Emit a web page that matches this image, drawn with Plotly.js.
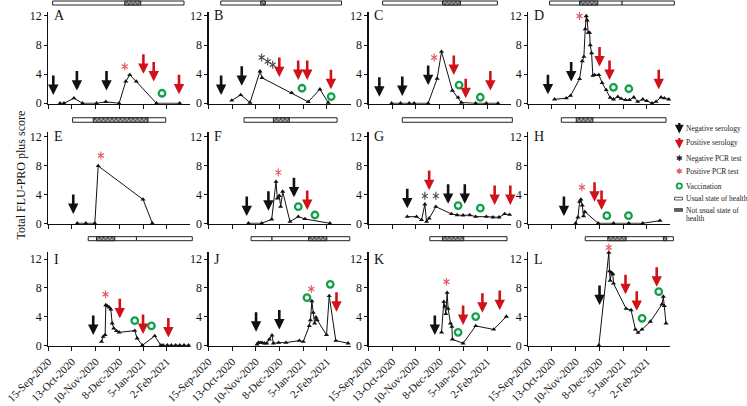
<!DOCTYPE html>
<html><head><meta charset="utf-8">
<script src="https://cdn.plot.ly/plotly-3.0.1.min.js"></script>
<style>html,body{margin:0;padding:0;background:#fff}#chart{width:747px;height:406px}</style>
</head><body><div id="chart"></div>
<script>
// ---------- DATA (x = days since 15-Sep-2020) ----------
const tickDays = [0, 28, 56, 84, 112, 140];
const tickLabels = ['15-Sep-2020','13-Oct-2020','10-Nov-2020','8-Dec-2020','5-Jan-2021','2-Feb-2021'];
const panelLetters = ['A','B','C','D','E','F','G','H','I','J','K','L'];

const day_A = [13.8, 18.5, 30.3, 40.5, 57, 68, 83.7, 91.6, 96.3, 104, 127.8, 155.3];
const score_A = [0, 0, 0.7, 0, 0, 0.2, 0, 3.0, 3.9, 3.0, 0, 0];
const negSero_A = [[5.9,1.15],[33.8,1.75],[68.8,1.75]];
const posSero_A = [[112.4,4.05],[124.6,3.0],[154.5,1.24]];
const negPcr_A = [];
const posPcr_A = [[90.4,5.06]];
const vacc_A = [[134.4,1.38]];
const usual_A = [[5.1,160.4]];
const notUsual_A = [[90.4,109.3]];

const day_B = [27.5, 38.1, 49.1, 60.9, 63.3, 98.3, 117.9, 131.7, 141.5];
const score_B = [0.4, 1.15, 0.1, 4.4, 3.5, 1.45, 0.2, 1.93, 0.1];
const negSero_B = [[14.9,1.15],[39.3,2.4]];
const posSero_B = [[83.7,3.6],[106,3.2],[116.7,3.2],[144.7,1.93]];
const negPcr_B = [[62.9,6.3],[70,5.75],[75.9,5.3]];
const posPcr_B = [];
const vacc_B = [[110.5,2.07],[145,0.92]];
const usual_B = [[14.5,157.2]];
const notUsual_B = [[61.7,67.2]];

const day_C = [27.2, 37.8, 48, 53.9, 70.4, 81, 86.2, 99.1, 105.8, 109.7, 126.6, 139.2, 153];
const score_C = [0, 0, 0, 0, 0, 3.4, 7.1, 1.75, 0.8, 0.1, 0, 0, 0];
const negSero_C = [[12.7,0.9],[39.8,1.0],[70.4,2.5]];
const posSero_C = [[100.7,3.9],[114.8,0.7],[143.9,1.75]];
const negPcr_C = [];
const posPcr_C = [[77.5,6.3]];
const vacc_C = [[107,2.5],[132,0.83]];
const usual_C = [[16.6,152.2]];
const notUsual_C = [[87.3,108.6]];

const day_D = [31.0, 44.9, 50.0, 60.6, 63.8, 65.7, 67.3, 68.5, 69.6, 70.8, 72.4, 73.2, 74.8, 76.3, 78.3, 83.4, 87.3, 92.1, 96.8, 100.7, 105.8, 109.7, 114.8, 119.6, 124.7, 129.4, 135.3, 140.0, 146.3, 151.0, 156.9, 160.8, 166.0];
const score_D = [0.55, 0.7, 1.05, 3.35, 5.8, 6.4, 10.2, 12.0, 11.4, 9.7, 9.7, 8.0, 6.9, 3.8, 3.9, 3.9, 2.8, 1.84, 0.78, 0.55, 0.9, 0.64, 0.46, 0.46, 0.83, 0.23, 0.55, 0.32, 0, 0.23, 0.83, 0.7, 0.55];
const negSero_D = [[23.2,1.24],[50.7,3.0]];
const posSero_D = [[84.2,5.06],[96,3.2],[154.2,1.93]];
const negPcr_D = [];
const posPcr_D = [[60.6,12.0]];
const vacc_D = [[100.7,2.2],[118.8,2.0]];
const usual_D = [[25.2,110.9],[110.9,172.6]];
const notUsual_D = [[60.6,82.2]];

const day_E = [34.2, 44.4, 55, 59, 112, 123];
const score_E = [0, 0, 0, 7.94, 3.3, 0];
const negSero_E = [[29.5,1.3]];
const posSero_E = [];
const negPcr_E = [];
const posPcr_E = [[62.1,9.4]];
const vacc_E = [];
const usual_E = [[28.7,138.8]];
const notUsual_E = [[53.1,117.9]];

const day_F = [47.2, 62.9, 74.7, 79.8, 81.4, 83.7, 85.3, 87.7, 96.3, 106.1, 114, 143.5];
const score_F = [0, 0, 0.55, 5.77, 3.46, 3.8, 2.3, 4.4, 0.23, 0.92, 0.6, 0];
const negSero_F = [[45.2,1.0],[70.8,1.75],[101,3.6]];
const posSero_F = [[116.7,1.85]];
const negPcr_F = [];
const posPcr_F = [[82.5,7.05]];
const vacc_F = [[106.1,2.3],[125.8,1.15]];
const usual_F = [[42,152]];
const notUsual_F = [[76.7,95.5]];

const day_G = [45.7, 56.7, 62.6, 66.5, 68.5, 71.6, 79.5, 97.9, 104.6, 111.7, 119.6, 126.6, 139.2, 147, 154.2, 160.8, 166.7];
const score_G = [0.92, 0.92, 0.46, 2.63, 0.23, 0.69, 2.3, 1.29, 1.15, 1.1, 1.15, 0.92, 0.92, 0.83, 0.83, 1.29, 1.2];
const negSero_G = [[45.7,2.08],[94,2.7],[113.7,2.7]];
const posSero_G = [[71.6,4.6],[149,2.54],[167.5,2.54]];
const negPcr_G = [[66.5,3.8],[79.5,3.8]];
const posPcr_G = [];
const vacc_G = [[105.8,2.45],[132.1,2.1]];
const usual_G = [[39.8,169.9]];
const notUsual_G = [];

const day_H = [55.9, 58.7, 60.6, 62.2, 63.8, 65.3, 66.9, 82.6, 100.7, 118.8, 135.3, 155.7];
const score_H = [0, 0.83, 3.0, 3.3, 2.5, 1.0, 1.6, 0, 0, 0, 0, 0.37];
const negSero_H = [[42.1,1.0]];
const posSero_H = [[78.3,3.0],[86.6,1.85]];
const negPcr_H = [];
const posPcr_H = [[63.4,5.0]];
const vacc_H = [[92.8,1.06],[118.4,1.06]];
const usual_H = [[39,162.8]];
const notUsual_H = [[56.7,76.3]];

const day_I = [62.9, 64.9, 67.2, 68, 69.6, 71.9, 73.9, 75.5, 77.4, 80.6, 83.7, 102.2, 105, 111.2, 125.8, 132.9, 135.6, 140.7, 145.4, 150.6, 155.3, 160.4, 165.9];
const score_I = [0.5, 1.2, 1.44, 5.6, 5.47, 5.28, 5.0, 3.06, 2.36, 2.0, 1.8, 2.04, 0.97, 0, 1.3, 0, 0, 0, 0, 0, 0, 0, 0];
const negSero_I = [[53.1,1.44]];
const posSero_I = [[84.5,3.75],[112,1.58],[141.9,1.1]];
const negPcr_I = [];
const posPcr_I = [[67.6,7.1]];
const vacc_I = [[102.2,3.43],[121.9,2.7]];
const usual_I = [[47.2,104.2],[104.2,170.2]];
const notUsual_I = [[57,78.6]];

const day_J = [57.4, 59, 61, 63.3, 66, 68.8, 71.9, 75.1, 76.7, 82.9, 91.6, 107.3, 112, 119.1, 120.5, 122.2, 123.8, 125.4, 127, 128.5, 139.5, 142.7, 150.5, 165.1];
const score_J = [0.14, 0.37, 0.37, 0.37, 0.28, 0.28, 0.83, 1.39, 0.28, 0.37, 0.37, 0.65, 0.5, 2.7, 3.5, 6.16, 4.54, 3.06, 3.9, 3.5, 1.44, 6.86, 0.65, 0.28];
const negSero_J = [[56.2,1.9],[83.7,2.2]];
const posSero_J = [[151.3,4.68]];
const negPcr_J = [];
const posPcr_J = [[121.5,7.83]];
const vacc_J = [[116.4,6.63],[143.9,8.48]];
const usual_J = [[50.3,75.1],[75.1,167]];
const notUsual_J = [[118.3,139.9]];

const day_K = [86.2, 88.9, 90.1, 91.3, 92.8, 94, 96.8, 98.4, 99.1, 111.7, 126.6, 147.9, 162.8];
const score_K = [1.8, 6.07, 5.4, 4.36, 7.32, 5.1, 3.06, 2.6, 0.83, 0.28, 2.7, 2.2, 4.0];
const negSero_K = [[78.3,1.44]];
const posSero_K = [[111.7,2.83],[134.5,4.54],[155,4.9]];
const negPcr_K = [];
const posPcr_K = [[92,8.85]];
const vacc_K = [[105.8,1.8],[126.6,4.0]];
const usual_K = [[72.4,163.6]];
const notUsual_K = [[87.3,112.5]];

const day_L = [83.4, 95.2, 96.0, 96.8, 98.4, 99.9, 100.7, 115.6, 121.5, 126.6, 129.7, 134.4, 144.3, 158, 159.6, 160.8, 162.8];
const score_L = [0, 12.9, 10.3, 9.0, 10.1, 9.9, 8.6, 5.1, 4.9, 2.2, 1.76, 2.2, 3.3, 5.7, 6.77, 5.47, 3.06];
const negSero_L = [[84.2,5.6]];
const posSero_L = [[114.9,7.1],[128.2,4.8],[151.8,8.15]];
const negPcr_L = [];
const posPcr_L = [[95.2,13.6]];
const vacc_L = [[134.5,3.75],[154.2,7.46]];
const usual_L = [[67.3,171.5]];
const notUsual_L = [[94,115.6],[159.7,163.6]];

const legendLabels = ['Negative serology','Positive serology','Negative PCR test','Positive PCR test','Vaccination','Usual state of health','Not usual state of','health'];
const yTitle = 'Total FLU-PRO plus score';

// ---------- PANEL TABLE ----------
const panels = [
  {day:day_A,score:score_A,negSero:negSero_A,posSero:posSero_A,negPcr:negPcr_A,posPcr:posPcr_A,vacc:vacc_A,usual:usual_A,notUsual:notUsual_A},
  {day:day_B,score:score_B,negSero:negSero_B,posSero:posSero_B,negPcr:negPcr_B,posPcr:posPcr_B,vacc:vacc_B,usual:usual_B,notUsual:notUsual_B},
  {day:day_C,score:score_C,negSero:negSero_C,posSero:posSero_C,negPcr:negPcr_C,posPcr:posPcr_C,vacc:vacc_C,usual:usual_C,notUsual:notUsual_C},
  {day:day_D,score:score_D,negSero:negSero_D,posSero:posSero_D,negPcr:negPcr_D,posPcr:posPcr_D,vacc:vacc_D,usual:usual_D,notUsual:notUsual_D},
  {day:day_E,score:score_E,negSero:negSero_E,posSero:posSero_E,negPcr:negPcr_E,posPcr:posPcr_E,vacc:vacc_E,usual:usual_E,notUsual:notUsual_E},
  {day:day_F,score:score_F,negSero:negSero_F,posSero:posSero_F,negPcr:negPcr_F,posPcr:posPcr_F,vacc:vacc_F,usual:usual_F,notUsual:notUsual_F},
  {day:day_G,score:score_G,negSero:negSero_G,posSero:posSero_G,negPcr:negPcr_G,posPcr:posPcr_G,vacc:vacc_G,usual:usual_G,notUsual:notUsual_G},
  {day:day_H,score:score_H,negSero:negSero_H,posSero:posSero_H,negPcr:negPcr_H,posPcr:posPcr_H,vacc:vacc_H,usual:usual_H,notUsual:notUsual_H},
  {day:day_I,score:score_I,negSero:negSero_I,posSero:posSero_I,negPcr:negPcr_I,posPcr:posPcr_I,vacc:vacc_I,usual:usual_I,notUsual:notUsual_I},
  {day:day_J,score:score_J,negSero:negSero_J,posSero:posSero_J,negPcr:negPcr_J,posPcr:posPcr_J,vacc:vacc_J,usual:usual_J,notUsual:notUsual_J},
  {day:day_K,score:score_K,negSero:negSero_K,posSero:posSero_K,negPcr:negPcr_K,posPcr:posPcr_K,vacc:vacc_K,usual:usual_K,notUsual:notUsual_K},
  {day:day_L,score:score_L,negSero:negSero_L,posSero:posSero_L,negPcr:negPcr_L,posPcr:posPcr_L,vacc:vacc_L,usual:usual_L,notUsual:notUsual_L}
];

// ---------- LAYOUT CONSTANTS (pixels) ----------
const W = 747, H = 406;
const FONT = 'Liberation Serif, Times New Roman, serif';
const colOriginPx = [48.3, 208.5, 368.6, 528.3];
const pxPerDay = 0.846;
const xMax = 168;      // visible axis end (days)
const xExt = 178;      // extended hidden axis for marks that pass the axis end
const rowZeroPx = [103.3, 223.3, 345.3];
const rowUnitPx = [7.275, 7.22, 7.19];
const rowTop = [12.6, 12.6, 13.0];
const yMin = -0.06;
const barCenterPx = [3, 120, 238.7];
const barHeightPx = [4, 4.5, 4];
const COL = {black:'#111', red:'#d0121b', pink:'#e2575f', green:'#14a04a', gray:'#444'};
const arrowLen = 21;
const X = px => px / W;
const Y = py => 1 - py / H;

const traces = [];
const annotations = [];
const shapes = [];
const layout = {
  width: W, height: H, margin: {l:0, r:0, t:0, b:0},
  paper_bgcolor: '#fff', plot_bgcolor: 'rgba(0,0,0,0)',
  showlegend: false, barmode: 'overlay',
  font: {family: FONT, color: '#111'},
  annotations, shapes
};

panels.forEach((p, i) => {
  const r = Math.floor(i / 4), c = i % 4;
  const sfx = i === 0 ? '' : String(i + 1);
  const esfx = String(i + 13);
  const xa = 'x' + sfx, ya = 'y' + sfx;
  const xe = 'x' + esfx, ye = 'y' + esfx;
  const o = colOriginPx[c];
  const zero = rowZeroPx[r], unit = rowUnitPx[r];
  const yBottomPx = zero - yMin * unit;
  layout['xaxis' + sfx] = {
    domain: [X(o), X(o + xMax * pxPerDay)], range: [0, xMax], anchor: ya,
    tickmode: 'array', tickvals: tickDays, ticktext: tickLabels,
    showticklabels: r === 2, tickangle: -45,
    tickfont: {family: FONT, size: 11, color: '#111'},
    ticks: 'outside', ticklen: 4, tickwidth: 1, tickcolor: '#111',
    showline: true, linecolor: '#111', linewidth: 1.2,
    showgrid: false, zeroline: false, fixedrange: true
  };
  layout['yaxis' + sfx] = {
    domain: [Y(yBottomPx), Y(zero - rowTop[r] * unit)], range: [yMin, rowTop[r]], anchor: xa,
    tickmode: 'array', tickvals: [0, 4, 8, 12],
    tickfont: {family: FONT, size: 12, color: '#111'},
    ticks: 'outside', ticklen: 3, tickwidth: 1, tickcolor: '#111',
    showline: true, linecolor: '#111', linewidth: 1.2,
    showgrid: false, zeroline: false, fixedrange: true
  };
  // hidden extended axes with the same scale, reaching the top of the figure and past the x end
  layout['xaxis' + esfx] = {
    domain: [X(o), X(o + xExt * pxPerDay)], range: [0, xExt], anchor: ye, visible: false, fixedrange: true
  };
  layout['yaxis' + esfx] = {
    domain: [Y(yBottomPx), 1], range: [yMin, zero / unit], anchor: xe, visible: false, fixedrange: true
  };
  const barY = (zero - barCenterPx[r]) / unit;
  const barW = barHeightPx[r] / unit;
  // health state bars
  traces.push({
    type: 'bar', orientation: 'h', xaxis: xe, yaxis: ye,
    y: p.usual.map(() => barY), base: p.usual.map(s => s[0]), x: p.usual.map(s => s[1] - s[0]),
    width: p.usual.map(() => barW),
    marker: {color: '#fff', line: {color: '#222', width: 1}}, hoverinfo: 'skip'
  });
  if (p.notUsual.length) traces.push({
    type: 'bar', orientation: 'h', xaxis: xe, yaxis: ye,
    y: p.notUsual.map(() => barY), base: p.notUsual.map(s => s[0]), x: p.notUsual.map(s => s[1] - s[0]),
    width: p.notUsual.map(() => barW),
    marker: {color: '#8a8a8a', line: {color: '#222', width: 1},
      pattern: {shape: 'x', size: 3, solidity: 0.4, fgcolor: '#222', bgcolor: '#aaa'}}, hoverinfo: 'skip'
  });
  // score line
  traces.push({
    type: 'scatter', mode: 'lines+markers', xaxis: xa, yaxis: ya, cliponaxis: false,
    x: p.day, y: p.score,
    line: {color: '#111', width: 1},
    marker: {symbol: 'triangle-up', size: 4.5, color: '#111'}, hoverinfo: 'skip'
  });
  // vaccinations
  if (p.vacc.length) traces.push({
    type: 'scatter', mode: 'markers', xaxis: xa, yaxis: ya, cliponaxis: false,
    x: p.vacc.map(v => v[0]), y: p.vacc.map(v => v[1]),
    marker: {symbol: 'circle-open', size: 6.5, color: COL.green, line: {color: COL.green, width: 2.3}}, hoverinfo: 'skip'
  });
  // PCR tests (asterisks) on the extended axes so that marks above 12 stay visible
  [[p.negPcr, COL.gray], [p.posPcr, COL.pink]].forEach(([arr, col]) => {
    if (!arr.length) return;
    traces.push({
      type: 'scatter', mode: 'markers', xaxis: xe, yaxis: ye, cliponaxis: false,
      x: arr.map(v => v[0]).concat(arr.map(v => v[0])),
      y: arr.map(v => v[1]).concat(arr.map(v => v[1])),
      marker: {symbol: arr.map(() => 'y-up-open').concat(arr.map(() => 'y-down-open')),
        size: 5, color: col, line: {color: col, width: 1.1}}, hoverinfo: 'skip'
    });
  });
  // serology arrows
  [[p.negSero, COL.black], [p.posSero, COL.red]].forEach(([arr, col]) => {
    arr.forEach(v => annotations.push({
      xref: xe, yref: ye, x: v[0], y: v[1], ax: 0, ay: -arrowLen, text: '',
      showarrow: true, arrowhead: 2, arrowsize: 0.8, arrowwidth: 2.6, arrowcolor: col, standoff: 0
    }));
  });
  // panel letter
  annotations.push({
    xref: xa + ' domain', yref: ya, x: 0.025, y: 12, xanchor: 'left', yanchor: 'middle',
    text: panelLetters[i], showarrow: false, font: {family: FONT, size: 14, color: '#111'}
  });
});

// y title
annotations.push({
  xref: 'paper', yref: 'paper', x: X(20.5), y: Y(175), textangle: -90, showarrow: false,
  text: yTitle, font: {family: FONT, size: 12, color: '#111'}, xanchor: 'center', yanchor: 'middle'
});

// ---------- LEGEND ----------
const legX = 679.3, legTextX = 683.5;
const legRowY = [128, 143, 158, 172, 186, 198.7, 210, 218.7];
annotations.push({xref:'paper', yref:'paper', x: X(legX), y: Y(133.5), ax: 0, ay: -12, text: '', showarrow: true,
  arrowhead: 2, arrowsize: 0.8, arrowwidth: 2.2, arrowcolor: COL.black, standoff: 0});
annotations.push({xref:'paper', yref:'paper', x: X(legX), y: Y(148.5), ax: 0, ay: -12, text: '', showarrow: true,
  arrowhead: 2, arrowsize: 0.8, arrowwidth: 2.2, arrowcolor: COL.red, standoff: 0});
annotations.push({xref:'paper', yref:'paper', x: X(legX), y: Y(legRowY[2]), text: '✱', showarrow: false,
  font: {family: 'DejaVu Sans', size: 8, color: '#222'}, xanchor: 'center', yanchor: 'middle'});
annotations.push({xref:'paper', yref:'paper', x: X(legX), y: Y(legRowY[3]), text: '✱', showarrow: false,
  font: {family: 'DejaVu Sans', size: 8, color: COL.pink}, xanchor: 'center', yanchor: 'middle'});
shapes.push({type: 'circle', xref: 'paper', yref: 'paper', x0: X(legX - 2.6), x1: X(legX + 2.6), y0: Y(legRowY[4] + 2.6), y1: Y(legRowY[4] - 2.6),
  line: {color: COL.green, width: 1.8}});
shapes.push({type: 'rect', xref: 'paper', yref: 'paper', x0: X(674.5), x1: X(682.5), y0: Y(200), y1: Y(197.3),
  line: {color: '#333', width: 0.8}, fillcolor: '#fff'});
shapes.push({type: 'rect', xref: 'paper', yref: 'paper', x0: X(674.5), x1: X(682.5), y0: Y(211.3), y1: Y(208.6),
  line: {color: '#333', width: 0.8}, fillcolor: '#666'});
legendLabels.forEach((t, k) => annotations.push({
  xref: 'paper', yref: 'paper', x: X(legTextX), y: Y(legRowY[k]), text: t, showarrow: false,
  xanchor: 'left', yanchor: 'middle', font: {family: FONT, size: 7.5, color: '#222'}
}));

Plotly.newPlot('chart', traces, layout, {staticPlot: true, displayModeBar: false});
</script></body></html>
